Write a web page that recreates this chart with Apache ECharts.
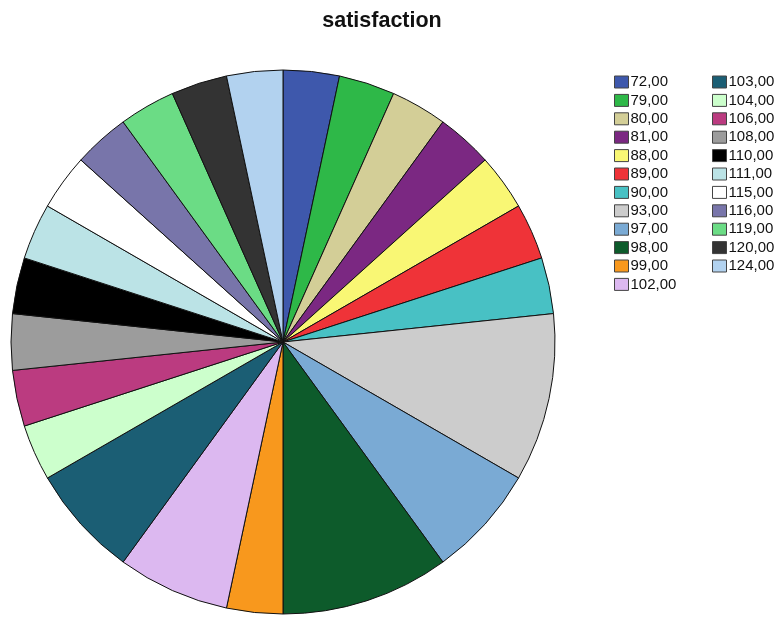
<!DOCTYPE html>
<html>
<head>
<meta charset="utf-8">
<script src="https://cdn.jsdelivr.net/npm/echarts@6/dist/echarts.min.js"></script>
<style>
  html, body { margin: 0; padding: 0; background: #fff; }
  #chart { width: 780px; height: 619px; }
</style>
</head>
<body>
<div id="chart"></div>
<script>
// satisfaction scores and how many respondents gave each
const categories = ['72,00', '79,00', '80,00', '81,00', '88,00', '89,00', '90,00', '93,00', '97,00', '98,00', '99,00', '102,00',
                    '103,00', '104,00', '106,00', '108,00', '110,00', '111,00', '115,00', '116,00', '119,00', '120,00', '124,00'];
const counts = [1, 1, 1, 1, 1, 1, 1, 3, 2, 3, 1, 2,
                2, 1, 1, 1, 1, 1, 1, 1, 1, 1, 1];
const colors = ['#3e58ac', '#2eb848', '#d3ce97', '#7b2882', '#f9f774', '#ef3338', '#48c1c4', '#cccccc', '#7aaad4', '#0d5b2b', '#f8981d', '#dcb8f0',
                '#1b5e74', '#ccffcc', '#bb3b80', '#9c9c9c', '#000000', '#bbe3e6', '#ffffff', '#7875aa', '#6bdc85', '#333333', '#b2d2ef'];

const pieData = categories.map((c, i) => ({ name: c, value: counts[i], itemStyle: { color: colors[i] } }));

const legendBase = {
  orient: 'vertical',
  itemWidth: 14,
  itemHeight: 12,
  itemGap: 3.4,
  icon: 'rect',
  itemStyle: { borderColor: '#444', borderWidth: 1 },
  textStyle: { fontFamily: 'Liberation Sans, Arial, sans-serif', fontSize: 15, lineHeight: 12, color: '#111', padding: [0, 0, 0, -3] },
  padding: 0
};

const chart = echarts.init(document.getElementById('chart'), null, { renderer: 'canvas' });
chart.setOption({
  animation: false,
  backgroundColor: '#fff',
  title: {
    text: 'satisfaction',
    left: 377,
    textAlign: 'center',
    top: 5,
    textStyle: { fontFamily: 'Liberation Sans, Arial, sans-serif', fontSize: 21.5, fontWeight: 'bold', color: '#111' }
  },
  legend: [
    Object.assign({}, legendBase, { left: 614, top: 74.5, data: categories.slice(0, 12) }),
    Object.assign({}, legendBase, { left: 712, top: 74.5, data: categories.slice(12) })
  ],
  series: [{
    type: 'pie',
    center: [283, 342],
    radius: 272,
    startAngle: 90,
    clockwise: true,
    minAngle: 0,
    label: { show: false },
    labelLine: { show: false },
    emphasis: { disabled: true },
    itemStyle: { borderColor: '#111', borderWidth: 1 },
    data: pieData
  }]
});
</script>
</body>
</html>
